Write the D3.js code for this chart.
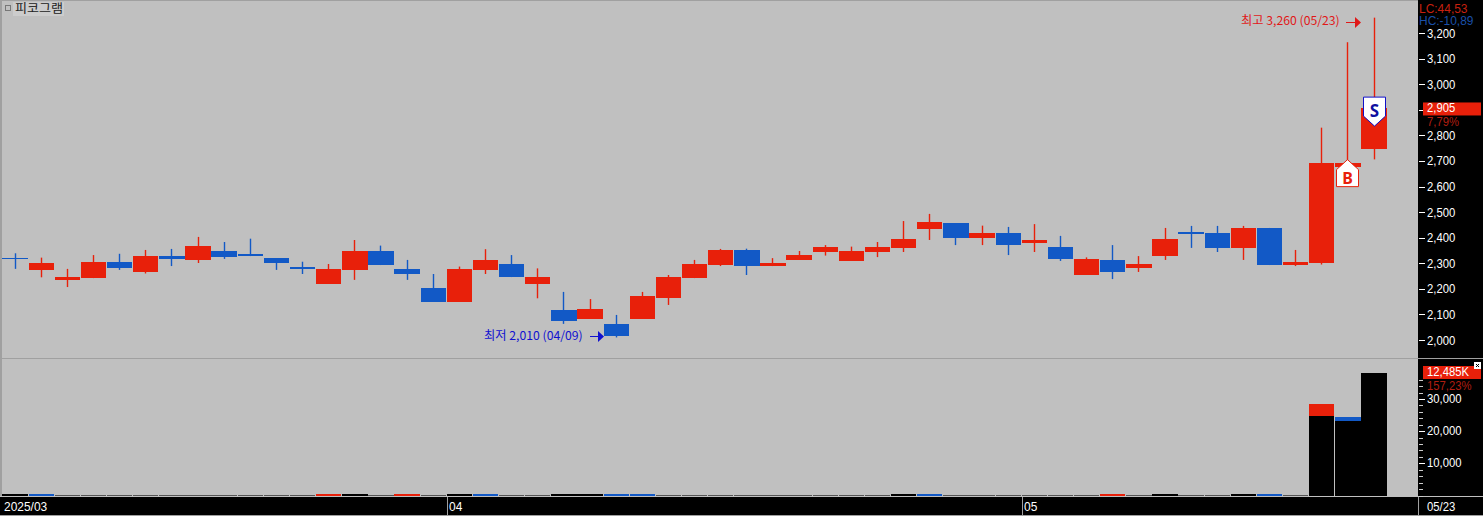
<!DOCTYPE html>
<html>
<head>
<meta charset="utf-8">
<script src="https://cdn.jsdelivr.net/npm/d3@7"></script>
<style>
  html, body { margin: 0; padding: 0; background: #000; overflow: hidden; }
  svg { display: block; }
  text { font-family: "Liberation Sans", "Noto Sans CJK KR", sans-serif; font-size: 13px; }
  .kr { font-family: "Noto Sans CJK KR", sans-serif; font-size: 12px; }
  .tag { font-size: 12px; }
</style>
</head>
<body>
<svg id="chart" width="1483" height="516"></svg>
<script>
// daily candles, 2025/03/07 to 2025/05/23 (market holidays skipped)
const dates = ["03/07","03/10","03/11","03/12","03/13","03/14","03/17","03/18","03/19","03/20","03/21",
  "03/24","03/25","03/26","03/27","03/28","03/31","04/01","04/02","04/03","04/04","04/07","04/08","04/09",
  "04/10","04/11","04/14","04/15","04/16","04/17","04/18","04/21","04/22","04/23","04/24","04/25","04/28",
  "04/29","04/30","05/02","05/07","05/08","05/09","05/12","05/13","05/14","05/15","05/16","05/19","05/20",
  "05/21","05/22","05/23"];
const opens = [2320,2274,2235,2242,2305,2266,2328,2313,2348,2336,2320,2285,2219,2274,2348,2278,2203,2149,2274,2297,2219,2117,2082,2063,
  2082,2164,2242,2293,2352,2289,2313,2344,2309,2344,2360,2434,2457,2399,2418,2379,2364,2254,2313,2281,2328,2422,2418,2360,2438,2293,2301,2676,2748];
const closes = [2315,2301,2246,2305,2281,2328,2317,2367,2324,2328,2301,2278,2278,2348,2293,2258,2149,2278,2313,2246,2246,2074,2121,2015,
  2172,2246,2297,2352,2289,2301,2332,2364,2348,2364,2395,2461,2399,2418,2371,2391,2317,2317,2266,2297,2395,2414,2360,2438,2293,2305,2693,2692,2905];
const highs = [2339,2322,2278,2332,2337,2352,2356,2403,2383,2396,2320,2306,2297,2391,2369,2313,2258,2287,2355,2332,2280,2188,2160,2098,
  2188,2254,2313,2356,2357,2320,2348,2371,2365,2383,2465,2493,2457,2447,2442,2453,2407,2323,2371,2328,2438,2446,2446,2446,2438,2352,2830,3164,3260];
const lows = [2278,2245,2207,2242,2274,2260,2289,2301,2317,2328,2274,2258,2219,2235,2293,2235,2149,2149,2258,2246,2163,2063,2082,2010,
  2082,2137,2242,2289,2254,2289,2313,2330,2309,2324,2344,2391,2371,2371,2332,2344,2309,2254,2238,2266,2313,2360,2344,2313,2293,2289,2295,2676,2706];
// total volume, the black part drawn over it, and the direction of the coloured part
const volumes = [450,450,300,300,300,300,300,300,300,300,300,300,450,450,300,450,300,450,450,300,300,450,450,450,450,300,300,300,300,300,300,300,300,300,
  450,450,300,300,300,300,300,300,450,300,450,300,300,450,450,300,28500,24500,38000];
const blackVolumes = [450,0,0,0,0,0,0,0,0,0,0,0,0,450,0,0,0,450,0,0,0,450,450,0,0,0,0,0,0,0,0,0,0,0,
  450,0,0,0,0,0,0,0,0,0,450,0,0,450,0,0,24800,23300,38000];
const volumeDirs = [0,-1,0,0,0,0,0,0,0,0,0,0,1,0,0,1,0,0,-1,0,0,0,0,-1,-1,0,0,0,0,0,0,0,0,0,
  0,-1,0,0,0,0,0,0,1,0,0,0,0,0,-1,0,1,-1,0];

const priceTicks = d3.range(2000, 3201, 100);
const volumeTicks = [10000, 20000, 30000];
const volumeMinorTicks = d3.range(0, 36001, 2000);
const monthIndex = [0, 17, 39];
const monthLabels = ["2025/03", "04", "05"];

const lastPrice = 2905, lastPricePct = "7,79%";
const lastVolume = "12,485K", lastVolumePct = "157,23%";
const buyIndex = 51, buyPrice = 2705;
const sellIndex = 52, sellPrice = 2836;

const RED = "#E8200A", BLUE = "#1259C6", BG = "#C0C0C0", LINE = "#A0A0A0";
const plotRight = 1418;

const svg = d3.select("#chart");

// panels
svg.append("rect").attr("width", 1483).attr("height", 516).attr("fill", "#000");
svg.append("rect").attr("x", 0).attr("y", 0).attr("width", plotRight).attr("height", 497).attr("fill", BG);
svg.append("rect").attr("x", 0).attr("y", 0).attr("width", 2).attr("height", 497).attr("fill", LINE);
svg.append("rect").attr("x", 0).attr("y", 0).attr("width", plotRight).attr("height", 1).attr("fill", LINE);
svg.append("rect").attr("x", 0).attr("y", 358).attr("width", 1483).attr("height", 1).attr("fill", LINE);
svg.append("rect").attr("x", 0).attr("y", 496).attr("width", 1483).attr("height", 1).attr("fill", BG);
svg.append("rect").attr("x", 0).attr("y", 515).attr("width", 1483).attr("height", 1).attr("fill", LINE);

const x = d3.scaleBand().domain(d3.range(dates.length)).range([2.4, 2.4 + 53 * 26.12]).paddingInner(0.03).paddingOuter(0);
const y = d3.scaleLinear().domain([2000, 3200]).range([340, 33]);
const yVol = d3.scaleLinear().domain([0, 30000]).range([495.5, 399]);
const cx = i => Math.floor(x(i) + x.bandwidth() / 2) + 0.5;

// narrow bitmap-like labels
function label(parent, px, py, str, color, sx, cls) {
  return parent.append("text")
    .attr("class", cls || null)
    .attr("transform", `translate(${px},${py}) scale(${sx || 0.87},1)`)
    .attr("dy", "0.35em")
    .attr("fill", color)
    .text(str);
}

// candles
const candles = svg.append("g");
const color = i => closes[i] > opens[i] ? RED : BLUE;
candles.selectAll("line").data(d3.range(dates.length)).join("line")
  .attr("x1", cx).attr("x2", cx)
  .attr("y1", i => y(highs[i])).attr("y2", i => y(lows[i]))
  .attr("stroke", color)
  .attr("stroke-width", 1.4);
candles.selectAll("rect").data(d3.range(dates.length)).join("rect")
  .attr("shape-rendering", "crispEdges")
  .attr("x", i => x(i))
  .attr("width", x.bandwidth())
  .attr("y", i => y(Math.max(opens[i], closes[i])))
  .attr("height", i => Math.max(1, Math.abs(y(opens[i]) - y(closes[i]))))
  .attr("fill", color);

// volume
const volG = svg.append("g").attr("shape-rendering", "crispEdges");
volG.selectAll("rect.total").data(d3.range(dates.length)).join("rect")
  .attr("class", "total")
  .attr("x", i => x(i)).attr("width", x.bandwidth())
  .attr("y", i => yVol(volumes[i]))
  .attr("height", i => yVol(0) - yVol(volumes[i]))
  .attr("fill", i => volumeDirs[i] > 0 ? RED : volumeDirs[i] < 0 ? BLUE : "#555");
volG.selectAll("rect.black").data(d3.range(dates.length).filter(i => blackVolumes[i] > 0)).join("rect")
  .attr("class", "black")
  .attr("x", i => x(i)).attr("width", x.bandwidth())
  .attr("y", i => yVol(blackVolumes[i]))
  .attr("height", i => yVol(0) - yVol(blackVolumes[i]))
  .attr("fill", "#000");

// price axis
const priceAxis = d3.axisRight(y).tickValues(priceTicks).tickSize(6).tickFormat("");
const pa = svg.append("g").attr("transform", `translate(${plotRight + 1},0)`).call(priceAxis);
pa.select(".domain").remove();
pa.selectAll("line").attr("stroke", "#fff").attr("shape-rendering", "crispEdges");
priceTicks.filter(v => v !== 2900).forEach(v => label(svg, 1427, y(v), d3.format(",")(v), "#fff"));

// volume axis
const va = svg.append("g").attr("transform", `translate(${plotRight + 1},0)`)
  .call(d3.axisRight(yVol).tickValues(volumeMinorTicks).tickSize(4).tickFormat(""));
va.select(".domain").remove();
va.selectAll("line").attr("stroke", "#ccc").attr("shape-rendering", "crispEdges");
const vb = svg.append("g").attr("transform", `translate(${plotRight + 1},0)`)
  .call(d3.axisRight(yVol).tickValues(volumeTicks).tickSize(6).tickFormat(""));
vb.select(".domain").remove();
vb.selectAll("line").attr("stroke", "#fff").attr("shape-rendering", "crispEdges");
volumeTicks.forEach(v => label(svg, 1427, yVol(v) - 1, d3.format(",")(v), "#fff"));

// date axis
monthIndex.forEach((idx, k) => {
  if (k > 0) svg.append("line").attr("x1", Math.round(x(idx)) + 0.5).attr("x2", Math.round(x(idx)) + 0.5)
    .attr("y1", 497).attr("y2", 515).attr("stroke", LINE);
  label(svg, Math.round(x(idx)) + 2, 506, monthLabels[k], "#fff", 0.92);
});
svg.append("line").attr("x1", plotRight + 0.5).attr("x2", plotRight + 0.5).attr("y1", 497).attr("y2", 515).attr("stroke", LINE);
label(svg, 1427, 506, dates[dates.length - 1], "#fff");

// header and indicator text
svg.append("rect").attr("x", 13).attr("y", 2).attr("width", 51).attr("height", 14).attr("fill", "#CCCCCC");
svg.append("rect").attr("x", 5.5).attr("y", 5.5).attr("width", 5).attr("height", 5).attr("fill", "none").attr("stroke", "#777");
label(svg, 15, 9, "피코그램", "#222", 1.09, "kr");
label(svg, 1419, 8, "LC:44,53", "#C8200F", 0.92);
label(svg, 1419, 20, "HC:-10,89", "#1A4FA8", 0.92);

// last value tags
svg.append("rect").attr("x", 1423).attr("y", y(lastPrice) - 6).attr("width", 58).attr("height", 13).attr("fill", RED);
label(svg, 1427, y(lastPrice) - 1, d3.format(",")(lastPrice), "#fff", 0.94, "tag");
label(svg, 1427, y(lastPrice) + 13, lastPricePct, "#B01E10", 0.94, "tag");
svg.append("rect").attr("x", 1423).attr("y", 366).attr("width", 58).attr("height", 13).attr("fill", RED);
label(svg, 1427, 371.5, lastVolume, "#fff", 0.94, "tag");
label(svg, 1427, 385.5, lastVolumePct, "#B01E10", 0.94, "tag");
svg.append("rect").attr("x", 1474).attr("y", 362).attr("width", 7).attr("height", 7).attr("fill", "#fff");
svg.append("path").attr("d", "M1476 364L1479 367M1479 364L1476 367").attr("stroke", "#000").attr("fill", "none");

// high / low notes
function arrow(x0, x1, py, c) {
  svg.append("line").attr("x1", x0).attr("x2", x1 - 5).attr("y1", py).attr("y2", py).attr("stroke", c);
  svg.append("path").attr("d", `M${x1 - 6} ${py - 5.5}L${x1} ${py}L${x1 - 6} ${py + 5.5}Z`).attr("fill", c);
}
const hi = d3.max(highs), lo = d3.min(lows);
const hiIdx = highs.indexOf(hi), loIdx = lows.indexOf(lo);
label(svg, 1241, 21, `최고 ${d3.format(",")(hi)} (${dates[hiIdx]})`, "#E01818", 1.02, "kr");
arrow(1346, 1361, 22.5, "#E01818");
label(svg, 484, 336, `최저 ${d3.format(",")(lo)} (${dates[loIdx]})`, "#1010D0", 1.02, "kr");
arrow(590, 604, 336.5, "#1010D0");

// buy / sell markers
const bx = cx(buyIndex), by = y(buyPrice);
svg.append("path").attr("d", `M${bx} ${by}L${bx + 11} ${by + 10}V${by + 27}H${bx - 11}V${by + 10}Z`)
  .attr("fill", "#fff").attr("stroke", RED);
svg.append("text").attr("x", bx).attr("y", by + 19).attr("dy", "0.35em").attr("text-anchor", "middle")
  .attr("fill", RED).attr("font-weight", "bold").style("font-size", "16px").style("font-family", "'Noto Sans'").text("B");
const sx = cx(sellIndex), sy = y(sellPrice);
svg.append("path").attr("d", `M${sx} ${sy}L${sx + 11} ${sy - 10}V${sy - 29}H${sx - 11}V${sy - 10}Z`)
  .attr("fill", "#fff").attr("stroke", "#1010C8");
svg.append("text").attr("x", sx).attr("y", sy - 15).attr("dy", "0.35em").attr("text-anchor", "middle")
  .attr("fill", "#1010A0").attr("font-weight", "bold").style("font-size", "17px").style("font-family", "'Noto Sans'").text("S");
</script>
</body>
</html>
